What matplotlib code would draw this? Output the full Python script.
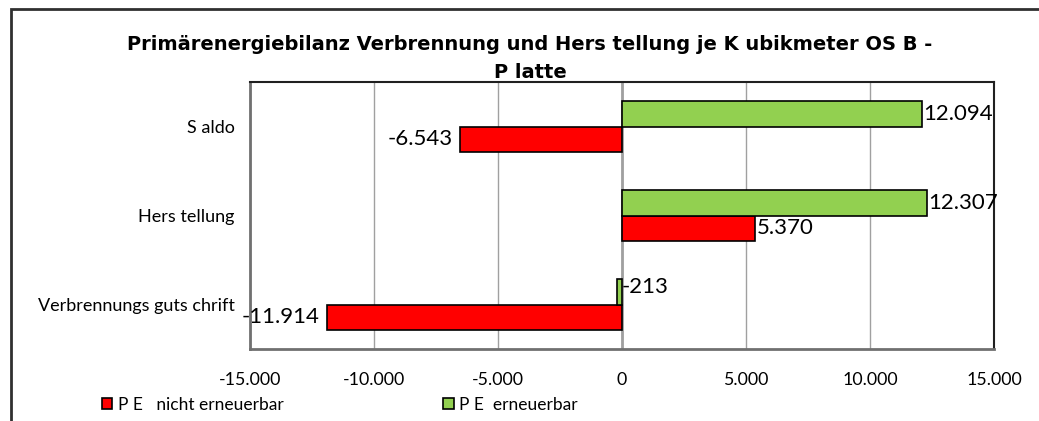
import matplotlib
matplotlib.use("Agg")
import matplotlib.pyplot as plt
from matplotlib.patches import Rectangle
import numpy as np

plt.rcParams['font.family'] = ['Lato', 'DejaVu Sans']

categories = ["Verbrennungs guts chrift", "Hers tellung", "S aldo"]
pe_nicht_erneuerbar = [-11914, 5370, -6543]
pe_erneuerbar = [-213, 12307, 12094]
series_names = ["P E   nicht erneuerbar", "P E  erneuerbar"]
tick_values = [-15000, -10000, -5000, 0, 5000, 10000, 15000]
tick_labels = ["-15.000", "-10.000", "-5.000", "0", "5.000", "10.000", "15.000"]
title_lines = ["Primärenergiebilanz Verbrennung und Hers tellung je K ubikmeter OS B -", "P latte"]

def fmt(v):
    s = f"{abs(v):,}".replace(",", ".")
    return ("-" if v < 0 else "") + s

W, H = 1039, 421
fig = plt.figure(figsize=(W/100, H/100), dpi=100)
ax = fig.add_axes([250/W, 1 - 349/H, 744/W, 267/H])

y = np.arange(len(categories))
h = 0.29
red = "#FF0000"
green = "#92D050"
ax.barh(y - h/2, pe_nicht_erneuerbar, height=h, color=red, edgecolor="black", linewidth=1.2, zorder=3, label=series_names[0])
ax.barh(y + h/2, pe_erneuerbar, height=h, color=green, edgecolor="black", linewidth=1.2, zorder=3, label=series_names[1])

ax.set_xlim(-15000, 15000)
ax.set_ylim(-0.5, len(categories) - 0.5)
ax.set_xticks(tick_values)
ax.set_xticklabels(tick_labels, fontsize=12.8)
ax.set_yticks(y)
ax.set_yticklabels(categories, fontsize=13)
ax.tick_params(axis='x', length=0, pad=16.5)
ax.tick_params(axis='y', length=0, pad=11)
ax.xaxis.grid(True, color="#A0A0A0", linewidth=1.0, zorder=0)
ax.axvline(0, color="#A0A0A0", linewidth=2.0, zorder=1)

for sp in ["top", "right"]:
    ax.spines[sp].set_color("#202020")
    ax.spines[sp].set_linewidth(1.5)
for sp in ["left", "bottom"]:
    ax.spines[sp].set_color("#707070")
    ax.spines[sp].set_linewidth(2.0)

def label(vals, offs):
    for yi, v in zip(y, vals):
        if abs(v) < 1000:
            ax.text(0, yi + offs + 0.05, fmt(v), ha='left', va='center', fontsize=16, zorder=5)
        elif v >= 0:
            ax.text(v + 60, yi + offs, fmt(v), ha='left', va='center', fontsize=16, zorder=5)
        else:
            ax.text(v - 300, yi + offs, fmt(v), ha='right', va='center', fontsize=16, zorder=5)

label(pe_nicht_erneuerbar, -h/2)
label(pe_erneuerbar, h/2)

fig.text(530/W, 1 - 45/H, title_lines[0], ha='center', va='center', fontsize=14,
         fontweight='bold', family='DejaVu Sans')
fig.text(530/W, 1 - 73/H, title_lines[1], ha='center', va='center', fontsize=14,
         fontweight='bold', family='DejaVu Sans')

leg = fig.legend(loc='center left', bbox_to_anchor=(102/W, 1 - 405/H), ncol=2, frameon=False,
                 fontsize=12.5, handlelength=0.6, handleheight=0.6, handletextpad=0.3,
                 columnspacing=9.2, borderpad=0, borderaxespad=0)

fig.add_artist(Rectangle((11/W, -0.1), 1.2, 1 - 9/H + 0.1, transform=fig.transFigure,
                         fill=False, edgecolor="#303030", linewidth=2))

fig.savefig("out.png", dpi=100)
